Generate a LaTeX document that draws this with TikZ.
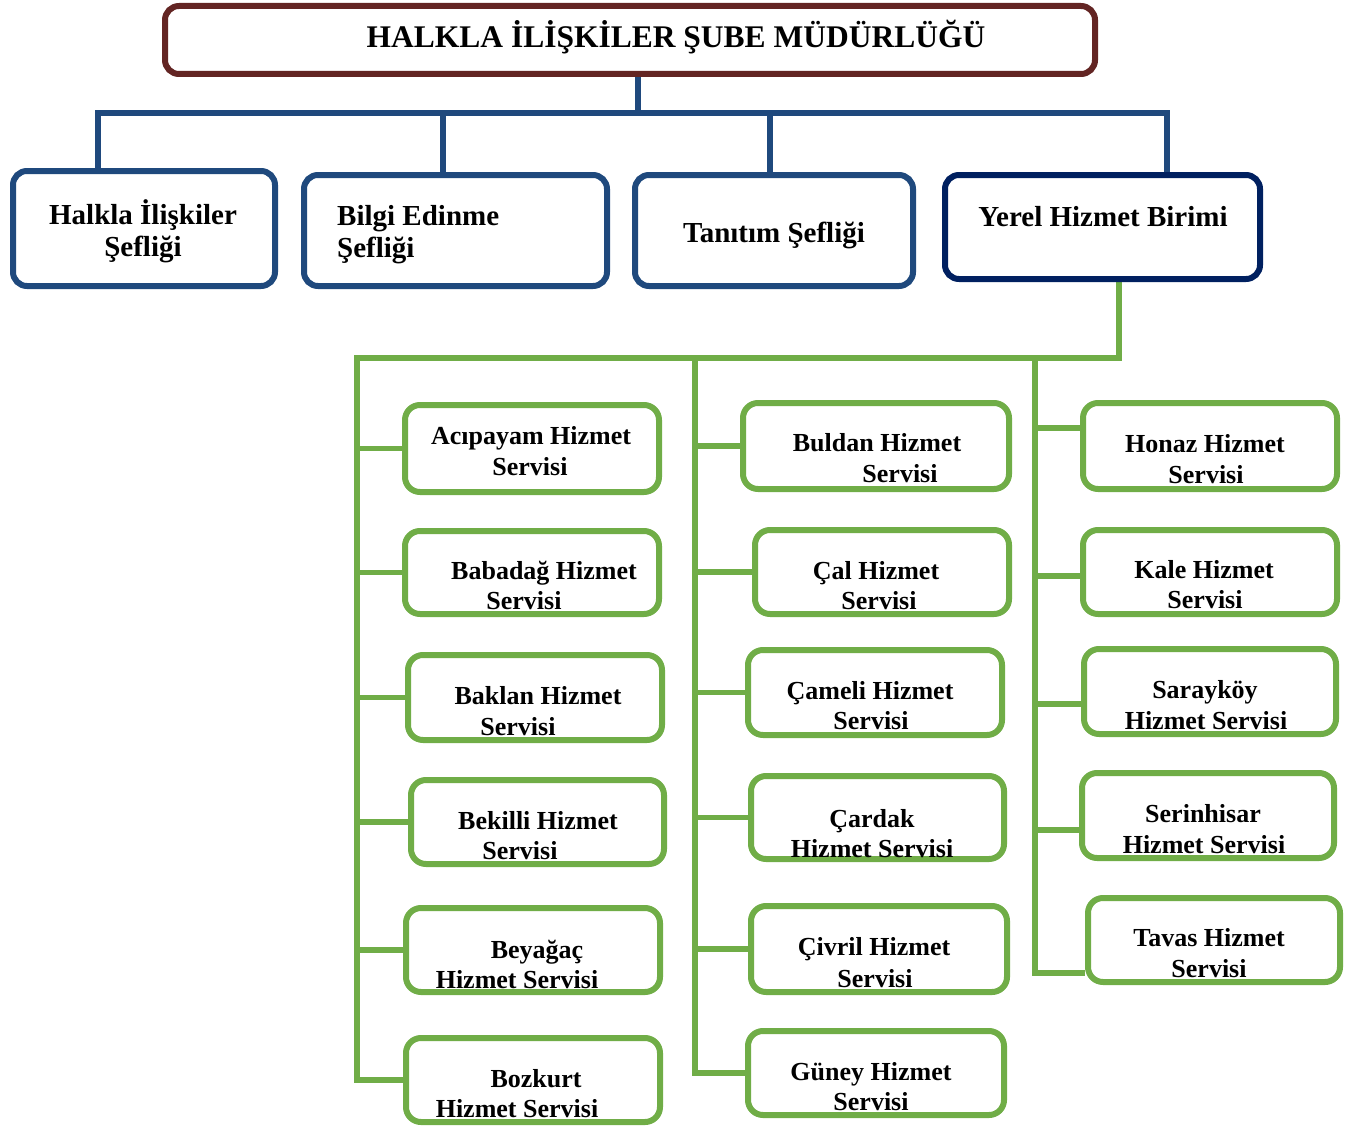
\documentclass[tikz,border=0pt]{standalone}
\usepackage{fontspec}
\setmainfont{Liberation Serif}
\usetikzlibrary{backgrounds}
\definecolor{titlered}{HTML}{632523}
\definecolor{sefblue}{HTML}{1F497D}
\definecolor{navy}{HTML}{002060}
\definecolor{srvgreen}{HTML}{70AD47}
\newcommand\mkbox[6]{%
  \pgfmathsetmacro\bw{#5-#3-6}\pgfmathsetmacro\bh{#6-#4-6}%
  \node[#2, minimum width=\bw pt, minimum height=\bh pt] (#1) at ({(#3+#5)/2},{(#4+#6)/2}) {};}
\begin{document}
\begin{tikzpicture}[x=1pt,y=-1pt,
  boxbase/.style={rectangle, draw, line width=6pt, rounded corners=14pt, fill=white, inner sep=0pt},
  titlebox/.style={boxbase, draw=titlered},
  sefbox/.style={boxbase, draw=sefblue},
  navybox/.style={boxbase, draw=navy},
  srvbox/.style={boxbase, draw=srvgreen, rounded corners=15pt},
  bl/.style={draw=sefblue, line width=6pt, line join=miter},
  gl/.style={draw=srvgreen, line width=5.5pt, line join=miter},
  ttl/.style={anchor=base, inner sep=0pt, font=\bfseries\fontsize{31.5}{36}\selectfont},
  sef/.style={anchor=base, inner sep=0pt, font=\bfseries\fontsize{29}{33}\selectfont},
  sefl/.style={anchor=base west, inner sep=0pt, font=\bfseries\fontsize{29}{33}\selectfont},
  srv/.style={anchor=base, inner sep=0pt, font=\bfseries\fontsize{26}{30}\selectfont}]
\useasboundingbox (0,0) rectangle (1349,1129);

% ---------- junction coordinates ----------
\coordinate (tj) at (638,113);
\coordinate (c1) at (98,113);
\coordinate (c2) at (443,113);
\coordinate (c3) at (770,113);
\coordinate (c4) at (1167,113);
\coordinate (g0) at (1119,358);
\coordinate (gL) at (357,358);
\coordinate (gM) at (695,358);
\coordinate (gR) at (1035,358);
\coordinate (r1) at (1035,428);
\coordinate (r2) at (1035,576);
\coordinate (r3) at (1035,704);
\coordinate (r4) at (1035,830);
\coordinate (r5) at (1035,973);

% ---------- boxes ----------
\mkbox{title}{titlebox}{162}{3}{1098}{77}
\mkbox{halkla}{sefbox}{10}{168}{278}{289}
\mkbox{bilgi}{sefbox}{301}{172}{610}{289}
\mkbox{tanitim}{sefbox}{632}{172}{916}{289}
\mkbox{yerel}{navybox}{942}{172}{1263}{282}

\mkbox{acipayam}{srvbox}{402}{402}{662}{495}
\mkbox{babadag}{srvbox}{402}{528}{662}{617}
\mkbox{baklan}{srvbox}{405}{652}{665}{743}
\mkbox{bekilli}{srvbox}{408}{777}{667}{867}
\mkbox{beyagac}{srvbox}{403}{905}{663}{995}
\mkbox{bozkurt}{srvbox}{403}{1035}{663}{1125}

\mkbox{buldan}{srvbox}{740}{400}{1012}{492}
\mkbox{cal}{srvbox}{752}{527}{1012}{617}
\mkbox{cameli}{srvbox}{745}{647}{1005}{738}
\mkbox{cardak}{srvbox}{748}{773}{1007}{862}
\mkbox{civril}{srvbox}{748}{903}{1010}{995}
\mkbox{guney}{srvbox}{745}{1028}{1007}{1118}

\mkbox{honaz}{srvbox}{1080}{400}{1340}{492}
\mkbox{kale}{srvbox}{1080}{527}{1340}{617}
\mkbox{saraykoy}{srvbox}{1081}{646}{1339}{737}
\mkbox{serinhisar}{srvbox}{1079}{770}{1337}{861}
\mkbox{tavas}{srvbox}{1085}{895}{1343}{985}

% ---------- connectors (behind boxes) ----------
\begin{pgfonlayer}{background}
\draw[bl] (title.south -| tj) -- (tj);
\draw[bl] (halkla.north -| c1) -- (c1) -- (c4) -- (yerel.north -| c4);
\draw[bl] (c2) -- (bilgi.north -| c2);
\draw[bl] (c3) -- (tanitim.north -| c3);

\draw[gl] (yerel.south -| g0) -- (g0) -- (gL) -- (gL |- bozkurt.west) -- (bozkurt.west);
\draw[gl] (gM) -- (gM |- guney.west) -- (guney.west);
\draw[gl] (gR) -- (r5) -- (tavas.west |- r5);
\foreach \b in {acipayam,babadag,baklan,bekilli,beyagac}
  \draw[gl] (gL |- \b.west) -- (\b.west);
\foreach \b in {buldan,cal,cameli,cardak,civril}
  \draw[gl] (gM |- \b.west) -- (\b.west);
\draw[gl] (r1) -- (honaz.west |- r1);
\draw[gl] (r2) -- (kale.west |- r2);
\draw[gl] (r3) -- (saraykoy.west |- r3);
\draw[gl] (r4) -- (serinhisar.west |- r4);
\end{pgfonlayer}

% ---------- texts ----------
\node[ttl] (ttitle) at (676,48) {HALKLA İLİŞKİLER ŞUBE MÜDÜRLÜĞÜ};
\node[sef] (thalkla1) at (143,224) {Halkla İlişkiler};
\node[sef] (thalkla2) at (143,256) {Şefliği};
\node[sefl] (tbilgi1) at (337,225) {Bilgi Edinme};
\node[sefl] (tbilgi2) at (337,257) {Şefliği};
\node[sef] (ttanitim) at (774,242) {Tanıtım Şefliği};
\node[sef] (tyerel) at (1103,226) {Yerel Hizmet Birimi};

\node[srv] (t1a) at (531,444) {Acıpayam Hizmet};
\node[srv] (t1b) at (530,475) {Servisi};
\node[srv] (t2a) at (544,579) {Babadağ Hizmet};
\node[srv] (t2b) at (524,609) {Servisi};
\node[srv] (t3a) at (538,704) {Baklan Hizmet};
\node[srv] (t3b) at (518,735) {Servisi};
\node[srv] (t4a) at (538,829) {Bekilli Hizmet};
\node[srv] (t4b) at (520,859) {Servisi};
\node[srv] (t5a) at (537,958) {Beyağaç};
\node[srv] (t5b) at (517,988) {Hizmet Servisi};
\node[srv] (t6a) at (536,1087) {Bozkurt};
\node[srv] (t6b) at (517,1117) {Hizmet Servisi};

\node[srv] (t7a) at (877,451) {Buldan Hizmet};
\node[srv] (t7b) at (900,482) {Servisi};
\node[srv] (t8a) at (876,579) {Çal Hizmet};
\node[srv] (t8b) at (879,609) {Servisi};
\node[srv] (t9a) at (870,699) {Çameli Hizmet};
\node[srv] (t9b) at (871,729) {Servisi};
\node[srv] (t10a) at (872,827) {Çardak};
\node[srv] (t10b) at (872,857) {Hizmet Servisi};
\node[srv] (t11a) at (874,955) {Çivril Hizmet};
\node[srv] (t11b) at (875,987) {Servisi};
\node[srv] (t12a) at (871,1080) {Güney Hizmet};
\node[srv] (t12b) at (871,1110) {Servisi};

\node[srv] (t13a) at (1205,452) {Honaz Hizmet};
\node[srv] (t13b) at (1206,483) {Servisi};
\node[srv] (t14a) at (1204,578) {Kale Hizmet};
\node[srv] (t14b) at (1205,608) {Servisi};
\node[srv] (t15a) at (1205,698) {Sarayköy};
\node[srv] (t15b) at (1206,729) {Hizmet Servisi};
\node[srv] (t16a) at (1203,822) {Serinhisar};
\node[srv] (t16b) at (1204,853) {Hizmet Servisi};
\node[srv] (t17a) at (1209,946) {Tavas Hizmet};
\node[srv] (t17b) at (1209,977) {Servisi};
\end{tikzpicture}
\end{document}
